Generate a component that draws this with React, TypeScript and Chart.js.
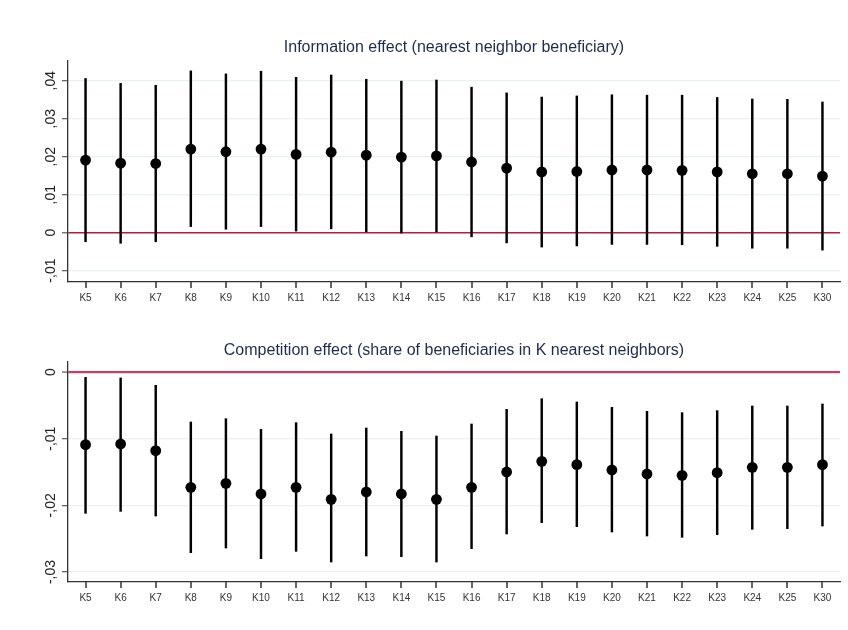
import React, { useEffect, useRef } from "react";
import { Chart, registerables } from "chart.js";

Chart.register(...registerables);

// Neighbourhood sizes on the x axis
const categories = [
  "K5", "K6", "K7", "K8", "K9", "K10", "K11", "K12", "K13", "K14", "K15",
  "K16", "K17", "K18", "K19", "K20", "K21", "K22", "K23", "K24", "K25", "K30",
];

// Information effect: point estimates and 95% confidence bounds
const infoEstimate = [
  0.0191, 0.0183, 0.0182, 0.0220, 0.0213, 0.0220, 0.0206, 0.0212, 0.0204, 0.0199, 0.0202,
  0.0186, 0.0170, 0.0160, 0.0161, 0.0165, 0.0165, 0.0164, 0.0160, 0.0155, 0.0155, 0.0149,
];
const infoLower = [
  -0.0024, -0.0028, -0.0024, 0.0016, 0.0009, 0.0016, 0.0004, 0.0010, 0.0002, -0.0001, 0.0002,
  -0.0011, -0.0027, -0.0038, -0.0035, -0.0031, -0.0031, -0.0032, -0.0036, -0.0041, -0.0041, -0.0046,
];
const infoUpper = [
  0.0406, 0.0393, 0.0388, 0.0426, 0.0418, 0.0425, 0.0409, 0.0415, 0.0404, 0.0399, 0.0402,
  0.0383, 0.0368, 0.0357, 0.0360, 0.0363, 0.0362, 0.0362, 0.0356, 0.0352, 0.0351, 0.0344,
];

// Competition effect: point estimates and 95% confidence bounds
const compEstimate = [
  -0.0109, -0.0108, -0.0118, -0.0173, -0.0167, -0.0183, -0.0173, -0.0191, -0.0180, -0.0183, -0.0191,
  -0.0173, -0.0150, -0.0134, -0.0139, -0.0147, -0.0153, -0.0155, -0.0151, -0.0143, -0.0143, -0.0139,
];
const compLower = [
  -0.0212, -0.0209, -0.0216, -0.0271, -0.0264, -0.0280, -0.0269, -0.0285, -0.0276, -0.0277, -0.0285,
  -0.0265, -0.0243, -0.0226, -0.0232, -0.0240, -0.0246, -0.0248, -0.0244, -0.0236, -0.0235, -0.0231,
];
const compUpper = [
  -0.0008, -0.0009, -0.0020, -0.0075, -0.0070, -0.0086, -0.0076, -0.0093, -0.0084, -0.0089, -0.0096,
  -0.0078, -0.0056, -0.0040, -0.0045, -0.0053, -0.0059, -0.0061, -0.0058, -0.0051, -0.0051, -0.0048,
];

// Y tick values for each panel
const infoTicks = [-0.01, 0, 0.01, 0.02, 0.03, 0.04];
const compTicks = [-0.03, -0.02, -0.01, 0];

const infoTitle = "Information effect (nearest neighbor beneficiary)";
const compTitle = "Competition effect (share of beneficiaries in K nearest neighbors)";

const FONT = "'Liberation Sans', Arial, sans-serif";

// Stata-style decimal comma without the leading zero: 0.04 -> ",04"
function fmtTick(v: number): string {
  const r = Math.round(v * 100);
  if (r === 0) return "0";
  const s = String(Math.abs(r)).padStart(2, "0");
  return (r < 0 ? "-" : "") + "," + s;
}

// Draws the panel heading, the rotated y tick labels and the x tick marks
// centred under each category
const panelDecor = {
  id: "panelDecor",
  afterDraw(chart: any, _args: any, opts: any) {
    const { ctx, chartArea } = chart;
    const y = chart.scales.y;
    const x = chart.scales.x;
    ctx.save();

    ctx.strokeStyle = "#333";
    ctx.lineWidth = 1.5;
    for (let i = 0; i < x.ticks.length; i++) {
      const px = Math.round(x.getPixelForTick(i));
      ctx.beginPath();
      ctx.moveTo(px, chartArea.bottom);
      ctx.lineTo(px, chartArea.bottom + 6);
      ctx.stroke();
    }

    ctx.fillStyle = "#1e2b4e";
    ctx.font = `16px ${FONT}`;
    ctx.textAlign = "center";
    ctx.textBaseline = "middle";
    ctx.fillText(opts.title, (chartArea.left + chartArea.right) / 2, opts.titleY);

    ctx.fillStyle = "#222";
    ctx.font = `14px ${FONT}`;
    for (const t of y.ticks) {
      const py = y.getPixelForValue(t.value);
      ctx.save();
      ctx.translate(51, py);
      ctx.rotate(-Math.PI / 2);
      ctx.textAlign = "center";
      ctx.textBaseline = "middle";
      ctx.fillText(fmtTick(t.value), 0, 0);
      ctx.restore();
    }
    ctx.restore();
  },
};

type PanelProps = {
  title: string;
  titleY: number;
  est: number[];
  lo: number[];
  hi: number[];
  ticks: number[];
  yMin: number;
  yMax: number;
  padTop: number;
  axisHeight: number;
  zeroColor: string;
  zeroWidth: number;
};

function Panel(p: PanelProps) {
  const ref = useRef<HTMLCanvasElement | null>(null);
  useEffect(() => {
    if (!ref.current) return;
    const chart = new Chart(ref.current, {
      type: "bar",
      data: {
        labels: categories,
        datasets: [
          {
            type: "line",
            data: p.est,
            showLine: false,
            pointRadius: 5.4,
            pointHoverRadius: 5.4,
            pointBackgroundColor: "#000",
            pointBorderColor: "#000",
            pointBorderWidth: 0,
            order: 0,
          } as any,
          {
            type: "bar",
            data: p.lo.map((l, i) => [l, p.hi[i]]),
            backgroundColor: "#000",
            barThickness: 1.8,
            borderSkipped: false,
            order: 1,
          } as any,
        ],
      },
      options: {
        animation: false,
        responsive: false,
        events: [],
        layout: { padding: { left: 0, right: 8, top: p.padTop, bottom: 0 } },
        plugins: {
          legend: { display: false },
          tooltip: { enabled: false },
          title: { display: false },
          panelDecor: { title: p.title, titleY: p.titleY },
        } as any,
        scales: {
          x: {
            offset: true,
            grid: {
              drawOnChartArea: false,
              drawTicks: true,
              tickLength: 7,
              tickColor: "rgba(0,0,0,0)",
            },
            border: { color: "#333", width: 1.3 },
            ticks: {
              font: { family: FONT, size: 10 },
              color: "#333",
              padding: 3,
              autoSkip: false,
              maxRotation: 0,
            },
            afterFit(scale: any) {
              scale.height = p.axisHeight;
            },
          },
          y: {
            min: p.yMin,
            max: p.yMax,
            grid: {
              color: (c: any) => (c.tick && c.tick.value === 0 ? p.zeroColor : "#eaf1f3"),
              lineWidth: (c: any) => (c.tick && c.tick.value === 0 ? p.zeroWidth : 1.3),
              drawTicks: true,
              tickLength: 6,
              tickColor: "#666",
              tickWidth: 1.3,
            },
            border: { color: "#333", width: 1.3 },
            ticks: { display: false },
            afterBuildTicks(scale: any) {
              scale.ticks = p.ticks.map((v) => ({ value: v }));
            },
            afterFit(scale: any) {
              scale.width = 68;
            },
          },
        },
      },
      plugins: [panelDecor],
    });
    return () => chart.destroy();
  }, []);
  return <canvas ref={ref} width={848} height={315} style={{ display: "block" }} />;
}

export default function App() {
  return (
    <div style={{ position: "absolute", left: 0, top: 0, width: 848, height: 630, background: "#fff" }}>
      <Panel
        title={infoTitle}
        titleY={48}
        est={infoEstimate}
        lo={infoLower}
        hi={infoUpper}
        ticks={infoTicks}
        yMin={-0.013}
        yMax={0.0452}
        padTop={61}
        axisHeight={33}
        zeroColor="#bb1a40"
        zeroWidth={1.5}
      />
      <Panel
        title={compTitle}
        titleY={36}
        est={compEstimate}
        lo={compLower}
        hi={compUpper}
        ticks={compTicks}
        yMin={-0.0315}
        yMax={0.0015}
        padTop={47}
        axisHeight={48}
        zeroColor="#cc3d60"
        zeroWidth={2.2}
      />
    </div>
  );
}
